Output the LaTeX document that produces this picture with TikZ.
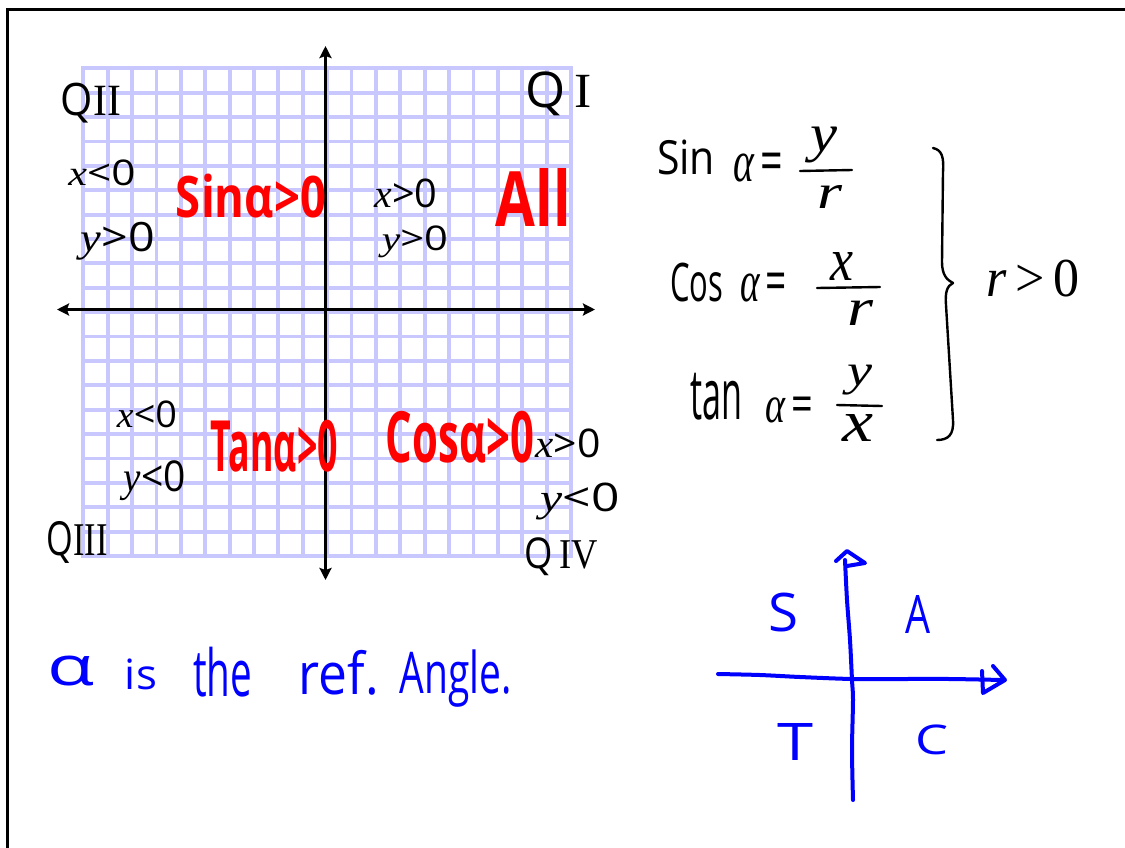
\documentclass[tikz,border=0pt]{standalone}
\usepackage{fontspec}
\setmainfont{Open Sans}
\newfontfamily\vf{Liberation Serif}
\usetikzlibrary{arrows.meta}
\definecolor{gridc}{RGB}{200,200,255}
\definecolor{pred}{RGB}{255,0,0}
\definecolor{pblue}{RGB}{0,0,255}
\newcommand{\fitt}[3]{\resizebox*{#1pt}{#2pt}{#3}}
\newcommand{\vx}{{\vf\itshape x}}
\newcommand{\vy}{{\vf\itshape y}}
\newcommand{\al}{{\vf\itshape α}}
\tikzset{
  lbl/.style={inner sep=0pt, outer sep=0pt, anchor=center},
  gridline/.style={draw=gridc, line width=3.8pt, line cap=rect},
  axis/.style={draw=black, line width=3.8pt, {Stealth[length=12pt,width=12pt,inset=2pt]}-{Stealth[length=12pt,width=12pt,inset=2pt]}},
  bpen/.style={draw=pblue, line width=4pt, line cap=round, line join=round},
  kpen/.style={draw=black, line width=2.4pt, line cap=round, line join=round},
  redtxt/.style={lbl, text=pred, font=\bfseries},
  bluetxt/.style={lbl, text=pblue},
}
\begin{document}
\begin{tikzpicture}[x=1pt,y=-1pt]
\useasboundingbox (0,0) rectangle (1125,847);
\fill[white] (0,0) rectangle (1125,847);
% frame
\draw[line width=2.8pt] (7.7,860) -- (7.7,9.7) -- (1140,9.7);
% grid
\foreach \i in {0,...,20} {
  \draw[gridline] ({83.3+24.385*\i},68.3) -- ({83.3+24.385*\i},556);
  \draw[gridline] (83.3,{68.3+24.385*\i}) -- (571,{68.3+24.385*\i});
}
% axes
\coordinate (ytop) at (325.5,46);
\coordinate (ybot) at (325.5,580);
\coordinate (xlft) at (57,309.5);
\coordinate (xrgt) at (595,309.5);
\draw[axis] (ybot) -- (ytop);
\draw[axis] (xlft) -- (xrgt);
% quadrant labels
\node[lbl] (qii)  at (91,103)   {\fitt{60}{40}{Q{\vf II}}};
\node[lbl] (qi)   at (559,94)   {\fitt{66}{44}{Q\,{\vf I}}};
\node[lbl] (qiii) at (77,542)   {\fitt{61}{42}{Q{\vf III}}};
\node[lbl] (qiv)  at (561,557)  {\fitt{73}{38}{Q\,{\vf IV}}};
\node[lbl] (xul) at (102,173) {\fitt{67}{26}{\vx<0}};
\node[lbl] (yul) at (118,241) {\fitt{74}{38}{\vy>0}};
\node[lbl] (xur) at (406,193) {\fitt{63}{29}{\vx>0}};
\node[lbl] (yur) at (415,242) {\fitt{66}{32}{\vy>0}};
\node[lbl] (xll) at (147,414) {\fitt{60}{27}{\vx<0}};
\node[lbl] (yll) at (155,481) {\fitt{62}{40}{\vy<0}};
\node[lbl] (xlr) at (568,443) {\fitt{65}{29}{\vx>0}};
\node[lbl] (ylr) at (580,501) {\fitt{79}{37}{\vy<0}};
% red
\node[redtxt] (sinr) at (251,196) {\fitt{150}{44}{Sinα>0}};
\node[redtxt] (allr) at (533.5,197) {\fitt{75}{58}{All}};
\node[redtxt] (tanr) at (274.5,446) {\fitt{127}{52}{Tanα>0}};
\node[redtxt] (cosr) at (460,437) {\fitt{148}{52}{Cosα>0}};
% formulas
\node[lbl] (sinw) at (686,157.5) {\fitt{58}{35}{Sin}};
\node[lbl] (ae1)  at (758,167.5) {\fitt{50}{29}{\al\,=}};
\node[lbl] (n1)   at (823.5,145) {\fitt{27}{36}{\vy}};
\node[lbl] (d1)   at (829.5,196.5) {\fitt{25}{23}{\vf\itshape r}};
\coordinate (b1a) at (800,171); \coordinate (b1b) at (852,170);
\draw[kpen] (b1a) -- (b1b);
\node[lbl] (cosw) at (696.5,282.5) {\fitt{53}{39}{Cos}};
\node[lbl] (ae2)  at (763.5,287.5) {\fitt{47}{29}{\al\,=}};
\node[lbl] (n2)   at (841.5,266) {\fitt{23}{28}{\vx}};
\node[lbl] (d2)   at (860,312.5) {\fitt{26}{25}{\vf\itshape r}};
\coordinate (b2a) at (817,288); \coordinate (b2b) at (880,287);
\draw[kpen] (b2a) -- (b2b);
\node[lbl] (tanw) at (716,396.5) {\fitt{52}{47}{tan}};
\node[lbl] (ae3)  at (789,410) {\fitt{48}{26}{\al\,=}};
\node[lbl] (n3)   at (859.5,380) {\fitt{25}{30}{\vy}};
\node[lbl] (d3)   at (857.5,428) {\fitt{31}{27}{\vx}};
\coordinate (b3a) at (837,405); \coordinate (b3b) at (882,406);
\draw[kpen] (b3a) -- (b3b);
% brace
\draw[kpen] (933,148) .. controls (942,150) and (944,157) .. (943,172)
  -- (942,262) .. controls (942,275) and (947,280) .. (953,283)
  .. controls (947,286) and (945,292) .. (946,305)
  -- (953,420) .. controls (954,435) and (948,440) .. (937,440);
\node[lbl] (rpos) at (1033.5,278.5) {\fitt{93}{37}{\vf\itshape r\,{\upshape >\,0}}};
% bottom text
\node[bluetxt] (w1) at (71.5,671)  {\fitt{47}{30}{α}};
\node[bluetxt] (w2) at (141,674.5) {\fitt{32}{31}{is}};
\node[bluetxt] (w3) at (222.5,672) {\fitt{59}{50}{the}};
\node[bluetxt] (w4) at (339,672.5) {\fitt{80}{45}{ref.}};
\node[bluetxt] (w5) at (456,678.75) {\fitt{112}{57.5}{Angle.}};
% STAC
\draw[bpen] plot[smooth] coordinates {(853,800) (852,750) (853,700) (852,680) (850,640) (847,600) (845,560)};
\draw[bpen] (836,561) -- (847,551) -- (865,563) -- (847,566);
\draw[bpen] plot[smooth] coordinates {(718,674) (760,675) (800,677) (852,679) (900,679) (950,679) (1003,680)};
\draw[bpen] (982,671) -- (983,693) -- (1005,680) -- (993,666);
\node[bluetxt] (ls) at (783,612.5) {\fitt{30}{39}{S}};
\node[bluetxt] (la) at (917.5,614) {\fitt{25}{38}{A}};
\node[bluetxt] (lt) at (795,741.5) {\fitt{36}{37}{T}};
\node[bluetxt] (lc) at (931.5,740) {\fitt{33}{30}{C}};
\end{tikzpicture}
\end{document}
